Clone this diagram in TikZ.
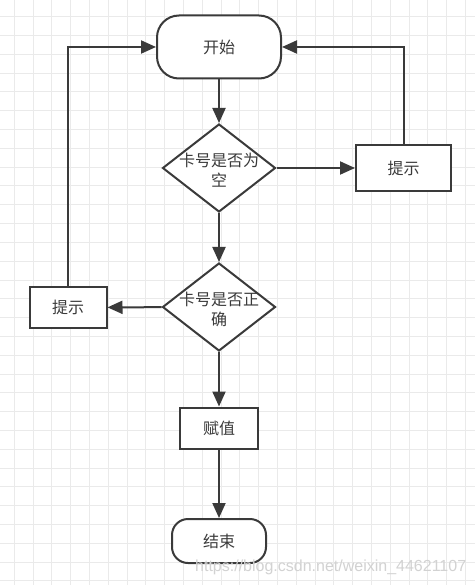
\documentclass[tikz,border=0pt]{standalone}
\usepackage{fontspec}
\newfontfamily\cjk{Noto Sans CJK SC}
\setmainfont{Liberation Sans}
\usetikzlibrary{shapes.geometric,arrows.meta}
\definecolor{ln}{HTML}{3A3A3A}
\definecolor{gridc}{HTML}{EAEAEA}
\definecolor{wm}{HTML}{D2D2D2}
\tikzset{
  cjkfont/.style={font=\cjk\fontsize{16}{20}\selectfont, text=ln},
  base/.style={draw=ln, line width=2pt, fill=white, inner sep=0pt, cjkfont},
  terminal/.style={base, rounded corners=22pt, minimum width=124pt, minimum height=63pt},
  terminalsmall/.style={base, rounded corners=16pt, minimum width=94pt, minimum height=44pt},
  procbox/.style={base, minimum width=#1, minimum height=42pt},
  decision/.style={base, diamond, minimum width=113pt, minimum height=88pt, aspect=1.28},
  conn/.style={draw=ln, line width=2pt, -{Triangle[length=15pt,width=13pt]}},
}
\begin{document}
\begin{tikzpicture}[x=1pt,y=-1pt]
\useasboundingbox (0,0) rectangle (475,585);
\fill[white] (0,0) rectangle (475,585);
% grid
\foreach \k in {0,...,24} {
  \draw[gridc, line width=1pt] ({14.3+18.8*\k},0) -- ({14.3+18.8*\k},585);
}
\foreach \k in {0,...,30} {
  \draw[gridc, line width=1pt] (0,{16.8+18.8*\k}) -- (475,{16.8+18.8*\k});
}
% nodes
\node[terminal] (start) at (219,47) {开始};
\node[decision, label={[align=center, cjkfont, yshift=-2pt]center:卡号是否为\\空}] (d1) at (219,168) {};
\node[procbox=95pt, minimum height=46pt] (tipR) at (403.5,168) {提示};
\node[decision, label={[align=center, cjkfont, yshift=-2pt]center:卡号是否正\\确}] (d2) at (219,307) {};
\node[procbox=77pt, minimum height=41pt] (tipL) at (68,307.5) {提示};
\node[procbox=78pt, minimum height=41pt] (assign) at (219,428) {赋值};
\node[terminalsmall] (end) at (219,541) {结束};
% connectors
\draw[conn] (start) -- (d1);
\draw[conn] (d1) -- (tipR);
\draw[conn] (tipR.north) |- (start.east);
\draw[conn] (d1) -- (d2);
\draw[conn] (d2) -- (tipL);
\draw[conn] (tipL.north) |- (start.west);
\draw[conn] (d2) -- (assign);
\draw[conn] (assign) -- (end);
% watermark
\node[text=wm, font=\fontsize{16}{18}\selectfont, anchor=west, inner sep=0pt] (wmark) at (195,567) {https://blog.csdn.net/weixin\_44621107};
\end{tikzpicture}
\end{document}
